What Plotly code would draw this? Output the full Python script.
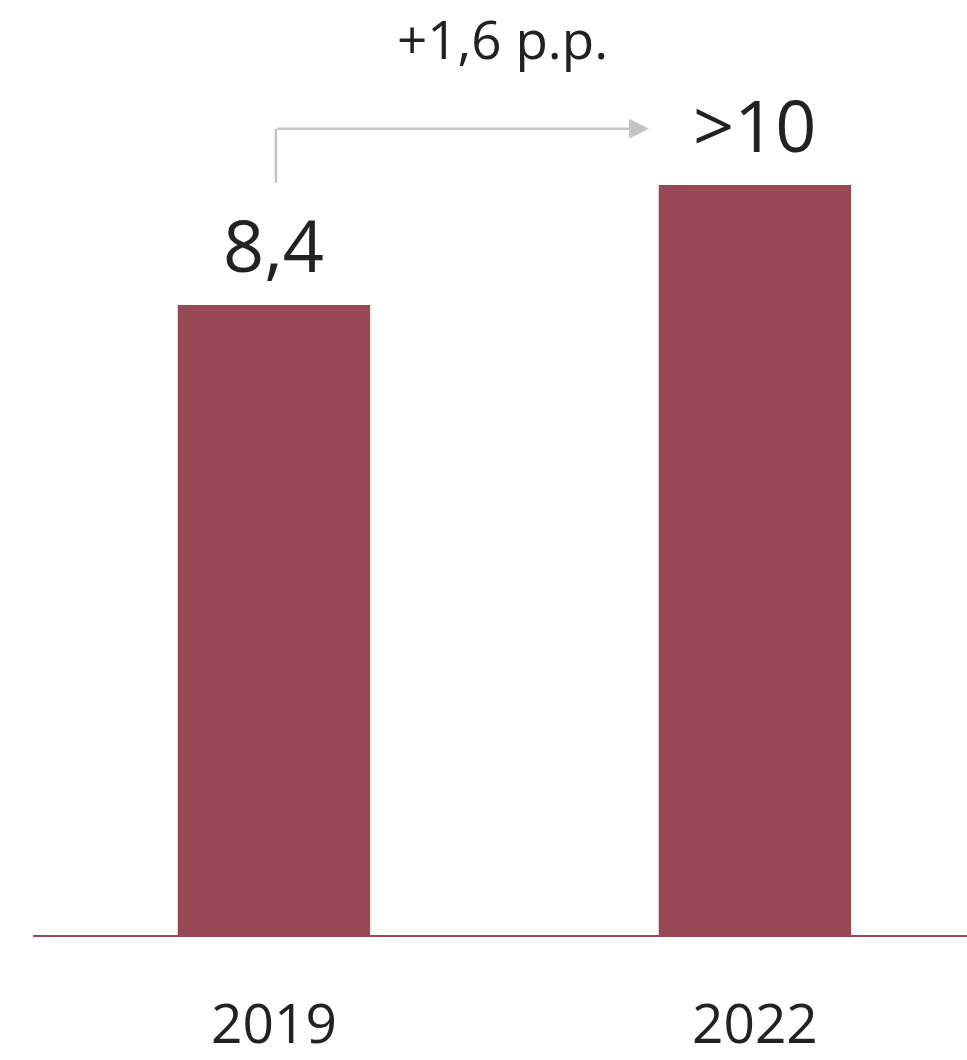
import plotly.graph_objects as go

# Share values by year
years = ["2019", "2022"]
values = [8.4, 10.0]
value_labels = ["8,4", "&gt;10"]
change_label = "+1,6 p.p."

bar_color = "#984955"
text_color = "#222222"
arrow_color = "#c2c5c1"
font_family = "Open Sans, Noto Sans, sans-serif"

fig = go.Figure(
    go.Bar(
        x=years,
        y=values,
        marker=dict(color=bar_color, line=dict(width=0)),
        width=0.4,
        hoverinfo="skip",
    )
)

# Value labels above each bar (category index positions)
for i, (v, lab) in enumerate(zip(values, value_labels)):
    fig.add_annotation(
        x=i, y=v, text=lab, showarrow=False,
        xanchor="center", yanchor="bottom", yshift=10,
        font=dict(family=font_family, size=72, color=text_color),
    )

# Elbow arrow from the first bar to the second
arrow_y = values[1] + 0.75
fig.add_shape(
    type="line", xref="x", yref="y",
    x0=0.004, x1=0.004, y0=values[1] + 0.03, y1=arrow_y,
    line=dict(color=arrow_color, width=2.5),
)
fig.add_annotation(
    x=0.78, y=arrow_y, ax=0.004, ay=arrow_y,
    xref="x", yref="y", axref="x", ayref="y",
    text="", showarrow=True, arrowhead=2, arrowsize=1.6,
    arrowwidth=2.5, arrowcolor=arrow_color, standoff=0, startstandoff=0,
)
fig.add_annotation(
    x=0.476, y=arrow_y, text=change_label, showarrow=False,
    xanchor="center", yanchor="bottom", yshift=52,
    font=dict(family=font_family, size=53, color=text_color),
)

fig.update_layout(
    width=967, height=1060,
    margin=dict(l=33, r=0, t=0, b=125, autoexpand=False),
    paper_bgcolor="white", plot_bgcolor="white",
    showlegend=False,
    xaxis=dict(
        type="category", range=[-0.501, 1.441], automargin=False,
        showline=True, linecolor=bar_color, linewidth=2,
        showgrid=False, zeroline=False, ticks="",
        tickfont=dict(family=font_family, size=55, color=text_color),
        ticklabelstandoff=40,
    ),
    yaxis=dict(
        range=[0, 935 / 75], visible=False, showgrid=False, zeroline=False,
    ),
)

fig.write_html("out.html")
